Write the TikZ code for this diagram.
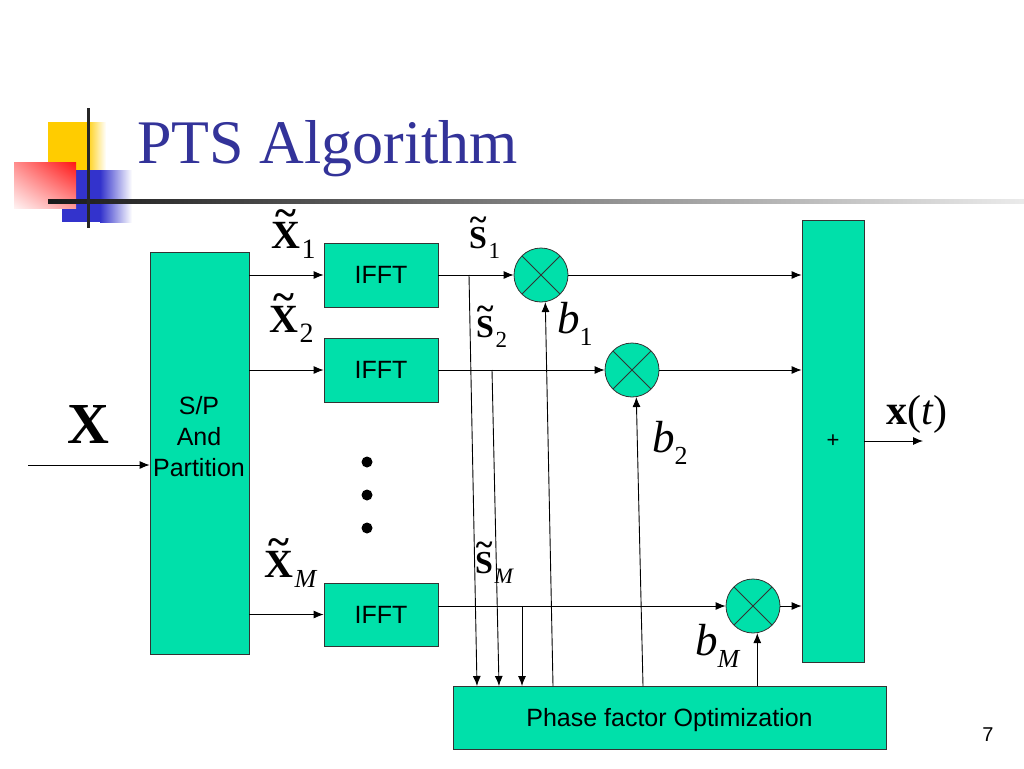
\RequirePackage{fix-cm}
\documentclass[tikz,border=0pt]{standalone}
\usepackage{amsmath}
\usepackage[no-math]{fontspec}
\setmainfont{Liberation Serif}
\setsansfont{Liberation Sans}
\usepackage{tikz}
\usetikzlibrary{positioning}
\usetikzlibrary{arrows.meta}
\usetikzlibrary{shadings}

\definecolor{boxgreen}{RGB}{0,224,170}
\definecolor{titleblue}{RGB}{51,51,153}
\definecolor{sqyellow}{RGB}{255,204,0}
\definecolor{sqblue}{RGB}{51,51,204}
\definecolor{sqred}{RGB}{255,20,20}

% #1 letter, #2 index, #3 size of index
\newcommand{\vlab}[3]{\ooalign{\bfseries #1\cr\hidewidth\raisebox{0.55em}{\bfseries\char`\~}\hidewidth\cr}\kern1.5pt\raisebox{-10pt}{\fontsize{#3}{#3}\selectfont #2}}
\newcommand{\blab}[1]{\textit{b}\raisebox{-12pt}{\fontsize{26}{28}\selectfont #1}}

\begin{document}
\begin{tikzpicture}[
    x=1pt,y=-1pt,
    block/.style={draw=black!80,fill=boxgreen,line width=0.8pt,font=\sffamily\fontsize{25}{31}\selectfont,align=center,inner sep=0pt},
    mult/.style={draw=black!80,fill=boxgreen,circle,minimum size=54pt,inner sep=0pt,line width=0.8pt,
      path picture={\draw[line width=0.8pt] (path picture bounding box.north west) -- (path picture bounding box.south east)
        (path picture bounding box.south west) -- (path picture bounding box.north east);}},
    xlbl/.style={font=\fontsize{40}{42}\selectfont,inner sep=0pt,anchor=base west},
    slbl/.style={font=\fontsize{32}{34}\selectfont,inner sep=0pt,anchor=base west},
    blbl/.style={font=\fontsize{45}{47}\selectfont,inner sep=0pt,anchor=base west},
    arr/.style={-{Latex[length=10pt,width=8pt]},line width=0.9pt}
    ]

    \fill[white] (0,0) rectangle (1024,768);
    \useasboundingbox (0,0) rectangle (1024,768);

    % title bar
    \fill[sqyellow] (48,122) rectangle (86,170);
    \shade[left color=sqyellow,right color=white] (86,122) rectangle (106,170);
    \fill[sqblue] (62,170) rectangle (100,222);
    \shade[left color=sqblue,right color=white] (100,170) rectangle (132,222);
    \shade[upper right=sqred,upper left=red!45,lower right=red!40,lower left=red!5] (14,162) rectangle (76,208);
    \shade[left color=black!90,right color=black!8] (48,199) rectangle (1024,203);
    \fill[black!85] (86.5,108) rectangle (89.5,228);
    \node[anchor=base west,text=titleblue,font=\fontsize{62}{64}\selectfont,inner sep=0pt] (title) at (137,163) {PTS Algorithm};

    % blocks
    \node[block,minimum width=99pt,minimum height=402pt] (sp) at (199.5,453) {};
    \node[font=\sffamily\fontsize{25}{31}\selectfont,align=center,inner sep=0pt] (sptext) at (199,437) {S/P\\And\\Partition};

    \node[block,minimum width=114pt,minimum height=64pt] (ifft1) at (381,275) {IFFT};
    \node[block,minimum width=114pt,minimum height=64pt] (ifft2) at (381,370) {IFFT};
    \node[block,minimum width=114pt,minimum height=63pt] (ifftM) at (381,614.5) {IFFT};

    \node[mult] (m1) at (541,275) {};
    \node[mult] (m2) at (632,370) {};
    \node[mult] (mM) at (753,606) {};

    \node[block,minimum width=62pt,minimum height=442pt,font=\sffamily\fontsize{22}{24}\selectfont] (sum) at (833,441) {+};
    \node[block,minimum width=433pt,minimum height=63pt,text depth=0pt] (pfo) at (669.5,717.5) {Phase factor Optimization};

    % dots
    \foreach \y in {462,495,528}
      \fill (367,\y) circle (5.5pt);

    % labels
    \node[font=\bfseries\fontsize{58}{60}\selectfont,inner sep=0pt] (xin) at (88,425) {X};
    \node[xlbl] (lx1) at (271,248) {\vlab{X}{1}{28}};
    \node[xlbl] (lx2) at (269,332) {\vlab{X}{2}{28}};
    \node[xlbl] (lxM) at (264,577) {\vlab{X}{\textit{M}}{26}};
    \node[slbl] (ls1) at (469,248) {\vlab{S}{1}{23}};
    \node[slbl] (ls2) at (476,337) {\vlab{S}{2}{23}};
    \node[slbl] (lsM) at (475,573) {\vlab{S}{\textit{M}}{22}};
    \node[blbl] (lb1) at (557,333) {\blab{1}};
    \node[blbl] (lb2) at (652,452) {\blab{2}};
    \node[blbl] (lbM) at (695,655) {\blab{\textit{M}}};
    \node[font=\fontsize{42}{44}\selectfont,inner sep=0pt] (lxt) at (917,414) {\textbf{x}(\textit{t})};
    \node[font=\sffamily\fontsize{20}{22}\selectfont] (pnum) at (988,735) {7};

    % connectors
    \coordinate (in) at (28,465);
    \coordinate (out) at (923,441);
    \draw[arr] (in) -- (in -| sp.west);
    \foreach \f in {1,2,M}
      \draw[arr] (ifft\f.west -| sp.east) -- (ifft\f.west);
    \draw[arr] (ifft1.east) -- (m1.west);
    \draw[arr] (ifft2.east) -- (m2.west);
    \draw[arr] (ifftM.east |- mM.west) -- (mM.west);
    \foreach \f in {1,2,M}
      \draw[arr] (m\f.east) -- (m\f.east -| sum.west);
    \draw[arr] (sum.east) -- (out);

    % taps into the optimizer
    \coordinate (tap1) at (469,275);
    \coordinate (tap2) at (492,370);
    \coordinate (tapM) at (522,607);
    \coordinate (pin1) at (477,686);
    \coordinate (pin2) at (499,686);
    \coordinate (pinM) at (522,686);
    \draw[arr] (tap1) -- (pin1);
    \draw[arr] (tap2) -- (pin2);
    \draw[arr] (tapM) -- (pinM);

    % phase factors back to the multipliers
    \coordinate (bout1) at (553,686);
    \coordinate (bout2) at (643,686);
    \draw[arr] (bout1) -- (m1.-81);
    \draw[arr] (bout2) -- (m2.-81);
    \draw[arr] (mM.-81 |- pfo.north) -- (mM.-81);

  \end{tikzpicture}
\end{document}
